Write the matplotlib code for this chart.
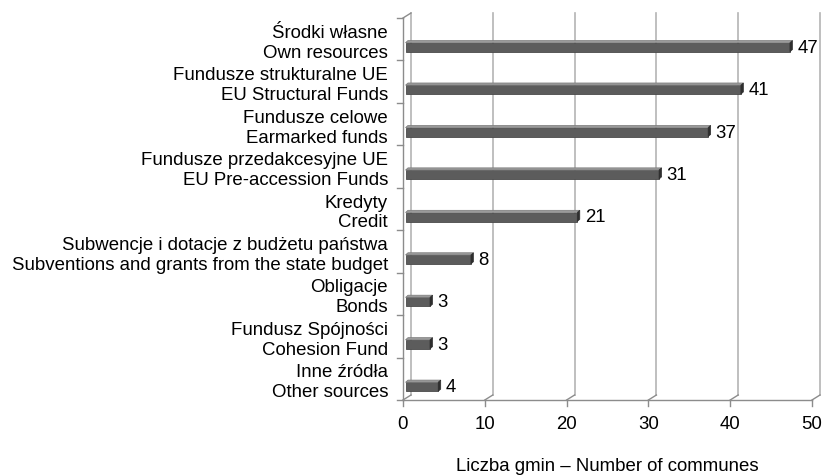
import matplotlib
matplotlib.use("Agg")
import matplotlib.pyplot as plt
from matplotlib.patches import Polygon

labels_pl = ["Środki własne", "Fundusze strukturalne UE", "Fundusze celowe",
             "Fundusze przedakcesyjne UE", "Kredyty",
             "Subwencje i dotacje z budżetu państwa", "Obligacje",
             "Fundusz Spójności", "Inne źródła"]
labels_en = ["Own resources", "EU Structural Funds", "Earmarked funds",
             "EU Pre-accession Funds", "Credit",
             "Subventions and grants from the state budget", "Bonds",
             "Cohesion Fund", "Other sources"]
values = [47, 41, 37, 31, 21, 8, 3, 3, 4]
xticks = [0, 10, 20, 30, 40, 50]

plt.rcParams['font.family'] = ['Liberation Sans', 'DejaVu Sans']
FS = 13.4

W, H = 823, 477
fig = plt.figure(figsize=(W / 100, H / 100), dpi=100)
x0, x1, ytop, ybot = 403, 812, 19, 401
ax = fig.add_axes([x0 / W, 1 - ybot / H, (x1 - x0) / W, (ybot - ytop) / H])
n = len(values)
ax.set_xlim(0, 50)
ax.set_ylim(n, 0)
ax.axis('off')

# pixel -> data unit helpers
px_x = 50 / (x1 - x0)
px_y = n / (ybot - ytop)
DX, DY = 8 * px_x, 5 * px_y   # depth of the back wall

grid_c = '#b4b4b4'
axis_c = '#8c8c8c'

# back wall gridlines + floor diagonals
for t in xticks:
    ax.plot([t + DX, t + DX], [0 - DY, n - DY], color=grid_c, lw=1.2, clip_on=False, zorder=1)
    ax.plot([t, t + DX], [n, n - DY], color=axis_c, lw=1.0, clip_on=False, zorder=1)
    ax.plot([t, t], [n, n + 6 * px_y], color=axis_c, lw=1.0, clip_on=False)
    ax.text(t, n + 24 * px_y, str(t), ha='center', va='center', fontsize=FS)
# front floor edge
ax.plot([0, 50], [n, n], color=axis_c, lw=1.0, clip_on=False)
# left front axis
ax.plot([0, 0], [0, n], color=axis_c, lw=1.0, clip_on=False, zorder=2)
ax.plot([0, DX], [0, -DY], color=axis_c, lw=1.0, clip_on=False)
for i in range(n + 1):
    ax.plot([-6 * px_x, 0], [i, i], color=axis_c, lw=1.0, clip_on=False)

# bars with pseudo 3d faces
bh = 9 * px_y
bdx, bdy = 2.5 * px_x, 2.2 * px_y
shift = 2.5 * px_x
for i, v in enumerate(values):
    yc = i + 0.5 + 8 * px_y
    ya, yb = yc - bh / 2, yc + bh / 2
    xa, xb = shift, v + shift
    front = Polygon([(xa, ya), (xb, ya), (xb, yb), (xa, yb)], closed=True,
                    facecolor='#5c5c5c', edgecolor='#4a4a4a', lw=0.6, zorder=3)
    top = Polygon([(xa, ya), (xb, ya), (xb + bdx, ya - bdy), (xa + bdx, ya - bdy)],
                  closed=True, facecolor='#9a9a9a', edgecolor='#7a7a7a', lw=0.5, zorder=3)
    side = Polygon([(xb, ya), (xb + bdx, ya - bdy), (xb + bdx, yb - bdy), (xb, yb)],
                   closed=True, facecolor='#2e2e2e', edgecolor='#2e2e2e', lw=0.5, zorder=3)
    for p in (front, top, side):
        p.set_clip_on(False)
        ax.add_patch(p)
    ax.text(xb + bdx + 5 * px_x, yc, str(v), ha='left', va='center', fontsize=FS)
    ax.text(-15 * px_x, i + 0.5 + 3 * px_y, labels_pl[i] + "\n" + labels_en[i],
            ha='right', va='center', fontsize=FS, linespacing=1.22)

ax.text(25, n + 66 * px_y, "Liczba gmin – Number of communes",
        ha='center', va='center', fontsize=FS)

fig.savefig("out.png", dpi=100)
